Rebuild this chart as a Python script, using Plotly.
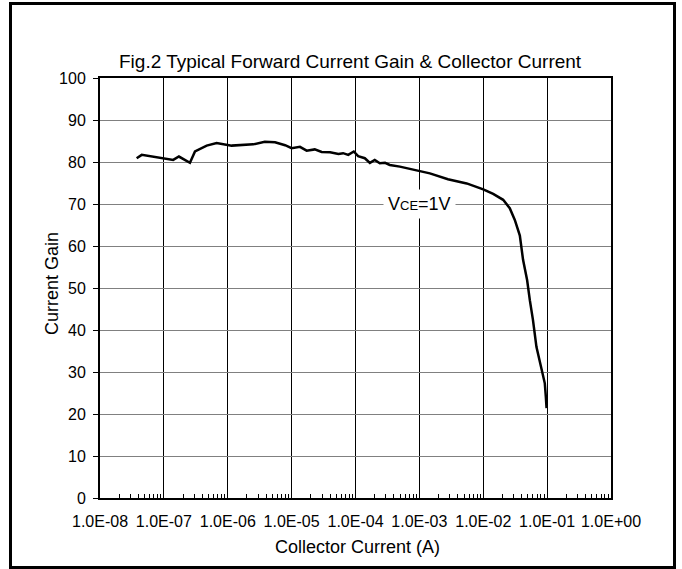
import plotly.graph_objects as go

# Data (Collector current in A, current gain)
collector_current = [3.75e-8, 4.5e-8, 1.4e-7, 1.72e-7, 2.56e-7, 3.07e-7, 4.68e-7, 6.7e-7,
                     1.15e-6, 2.5e-6, 3.8e-6, 5.5e-6, 7.9e-6, 1.0e-5, 1.35e-5, 1.72e-5,
                     2.3e-5, 2.95e-5, 4.0e-5, 5.4e-5, 6.4e-5, 7.7e-5, 9.4e-5, 1.1e-4,
                     1.4e-4, 1.68e-4, 2.0e-4, 2.4e-4, 2.9e-4, 3.45e-4, 4.95e-4, 9.6e-4,
                     1.46e-3, 2.8e-3, 5.5e-3, 1.0e-2, 1.43e-2, 2.05e-2, 2.6e-2, 3.12e-2,
                     3.74e-2, 4.2e-2, 4.86e-2, 5.36e-2, 6.0e-2, 6.8e-2, 8.2e-2, 9.2e-2,
                     9.55e-2, 9.8e-2]
current_gain = [80.9, 81.7, 80.5, 81.3, 79.8, 82.5, 83.9, 84.5,
                83.9, 84.2, 84.8, 84.7, 84.0, 83.3, 83.6, 82.7,
                83.0, 82.4, 82.3, 81.9, 82.1, 81.7, 82.5, 81.4,
                80.9, 79.8, 80.5, 79.7, 79.8, 79.3, 78.9, 77.9,
                77.3, 75.9, 74.9, 73.5, 72.4, 71.0, 69.0, 66.2,
                62.5, 56.7, 51.9, 47.1, 42.4, 36.0, 30.5, 27.3,
                24.1, 21.4]

x_decades = list(range(-8, 1))
x_tick_values = [10.0 ** e for e in x_decades]
x_tick_labels = ["1.0E-08", "1.0E-07", "1.0E-06", "1.0E-05", "1.0E-04",
                 "1.0E-03", "1.0E-02", "1.0E-01", "1.0E+00"]
y_tick_values = list(range(0, 101, 10))

title_text = "Fig.2 Typical Forward Current Gain & Collector Current"
x_title = "Collector Current (A)"
y_title = "Current Gain"
curve_label = "V<span style='font-size:13px'>CE</span>=1V"
label_x, label_y = 1e-3, 70

FONT = "Liberation Sans, Arial, sans-serif"
W, H = 682, 569
L, R, T, B = 100, 71, 78, 71
PW, PH = W - L - R, H - T - B


def px_x(p):
    return (p - L) / PW


def px_y(p):
    return (H - B - p) / PH


minor_vals = [m * 10.0 ** e for e in x_decades[:-1] for m in range(2, 10)]

fig = go.Figure()
fig.add_trace(go.Scatter(x=collector_current, y=current_gain, mode="lines",
                         line=dict(color="black", width=2.5), showlegend=False,
                         hoverinfo="skip"))

fig.update_layout(
    width=W, height=H,
    margin=dict(l=L, r=R, t=T, b=B, pad=0),
    paper_bgcolor="white", plot_bgcolor="white",
    font=dict(family=FONT, size=16, color="black"),
    showlegend=False,
)
fig.update_xaxes(
    type="log", range=[-8, 0],
    tickmode="array", tickvals=x_tick_values, ticktext=x_tick_labels,
    ticks="", showgrid=True, gridcolor="black", gridwidth=1,
    showline=True, linecolor="black", linewidth=2, mirror=True,
    zeroline=False, tickfont=dict(size=16), ticklabelstandoff=8,
    minor=dict(tickmode="array", tickvals=minor_vals, ticks="inside",
               ticklen=4, tickcolor="black", tickwidth=1, showgrid=False),
)
fig.update_yaxes(
    range=[0, 100], tickmode="array", tickvals=y_tick_values,
    ticks="outside", ticklen=5, tickcolor="black", tickwidth=1,
    showgrid=True, gridcolor="#808080", gridwidth=1,
    showline=True, linecolor="black", linewidth=2, mirror=True,
    zeroline=False, tickfont=dict(size=16), ticklabelstandoff=4,
)

fig.add_annotation(text=title_text, xref="paper", yref="paper",
                   x=px_x(350), y=px_y(62), xanchor="center", yanchor="middle",
                   showarrow=False, font=dict(size=19, family=FONT))
fig.add_annotation(text=x_title, xref="paper", yref="paper",
                   x=px_x(357), y=px_y(547), xanchor="center", yanchor="middle",
                   showarrow=False, font=dict(size=18, family=FONT))
fig.add_annotation(text=y_title, xref="paper", yref="paper", textangle=-90,
                   x=px_x(52), y=px_y(284), xanchor="center", yanchor="middle",
                   showarrow=False, font=dict(size=18, family=FONT))
fig.add_annotation(text=curve_label, x=-3, y=label_y, xref="x", yref="y",
                   showarrow=False, bgcolor="white", borderpad=4,
                   font=dict(size=18, family=FONT))

fig.add_shape(type="rect", xref="paper", yref="paper",
              x0=px_x(10.5), x1=px_x(674.5), y0=px_y(567.5), y1=px_y(3.5),
              line=dict(color="black", width=3), layer="above")

fig.write_html("out.html", config={"displayModeBar": False},
               post_script="document.body.style.margin='0px';")
